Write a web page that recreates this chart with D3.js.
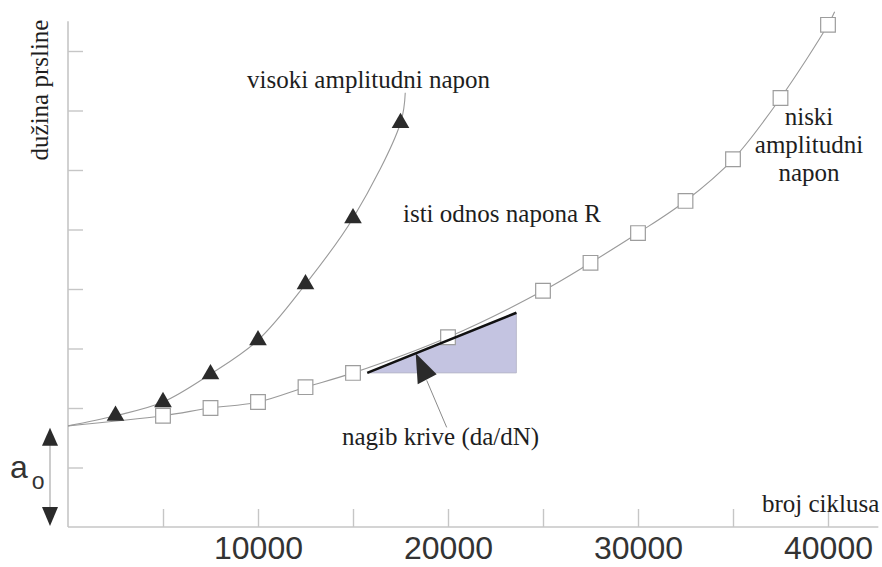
<!DOCTYPE html>
<html>
<head>
<meta charset="utf-8">
<script src="https://cdn.jsdelivr.net/npm/d3@7"></script>
<style>
  html, body { margin: 0; padding: 0; background: #fff; }
  svg { display: block; }
  .serif { font-family: "Liberation Serif", "Times New Roman", serif; fill: #1e1e1e; }
  .sans { font-family: "Liberation Sans", Arial, sans-serif; fill: #333; }
</style>
</head>
<body>
<svg id="chart" width="882" height="567"></svg>
<script>
// Initial crack length shared by both curves (at N = 0)
const crackStart = 1.70;

// High stress amplitude: cycles and crack length at each marker
const highCycles = [2500, 5000, 7500, 10000, 12500, 15000, 17500];
const highLength = [1.87, 2.10, 2.57, 3.14, 4.08, 5.19, 6.79];
const highEnd = [17750, 7.30];

// Low stress amplitude: cycles and crack length at each marker
const lowCycles = [5000, 7500, 10000, 12500, 15000, 20000, 25000, 27500, 30000, 32500, 35000, 37500, 40000];
const lowLength = [1.87, 2.00, 2.10, 2.35, 2.59, 3.19, 3.97, 4.44, 4.94, 5.48, 6.18, 7.21, 8.44];
const lowEnd = [40350, 8.66];

// Tangent (da/dN) triangle on the low-amplitude curve
const tangentCycles = [15750, 23600];
const tangentLength = [2.59, 3.60];

// Axis ticks
const xTickValues = [5000, 10000, 15000, 20000, 25000, 30000, 35000, 40000];
const xTickLabels = ["10000", "20000", "30000", "40000"];
const yTickValues = [1, 2, 3, 4, 5, 6, 7, 8];

const svg = d3.select("#chart");

const x = d3.scaleLinear().domain([0, 40000]).range([68, 828]);
const y = d3.scaleLinear().domain([0, 8]).range([527, 51]);

const axisColor = "#c6c6c6";

// ---- axes ----
const xAxis = d3.axisBottom(x)
  .tickValues(xTickValues)
  .tickSizeInner(-18)
  .tickSizeOuter(0)
  .tickPadding(9)
  .tickFormat(d => xTickLabels.includes(String(d)) ? String(d) : "");

const gx = svg.append("g").attr("transform", `translate(0,${y(0)})`).call(xAxis);
gx.select(".domain").remove();
gx.selectAll(".tick line").attr("stroke", axisColor).attr("stroke-width", 1.4);
gx.selectAll(".tick text")
  .attr("class", "sans")
  .style("font-size", "32px")
  .attr("fill", "#333");

const yAxis = d3.axisLeft(y)
  .tickValues(yTickValues)
  .tickSizeInner(-15)
  .tickSizeOuter(0)
  .tickFormat("");
const gy = svg.append("g").attr("transform", `translate(${x(0)},0)`).call(yAxis);
gy.select(".domain").remove();
gy.selectAll(".tick line").attr("stroke", axisColor).attr("stroke-width", 1.4);

// axis lines
svg.append("line")
  .attr("x1", x(0)).attr("x2", x(42650))
  .attr("y1", y(0)).attr("y2", y(0))
  .attr("stroke", axisColor).attr("stroke-width", 1.6);
svg.append("line")
  .attr("x1", x(0)).attr("x2", x(0))
  .attr("y1", y(0)).attr("y2", y(8.5))
  .attr("stroke", axisColor).attr("stroke-width", 1.6);

// ---- tangent triangle (shaded) ----
const tri = [
  [x(tangentCycles[0]), y(tangentLength[0])],
  [x(tangentCycles[1]), y(tangentLength[0])],
  [x(tangentCycles[1]), y(tangentLength[1])]
];
svg.append("path")
  .attr("d", "M" + tri.map(p => p.join(",")).join("L") + "Z")
  .attr("fill", "#c4c4e1")
  .attr("stroke", "#b4b4c4")
  .attr("stroke-width", 0.8);

// ---- curves ----
const line = d3.line()
  .x(d => x(d[0]))
  .y(d => y(d[1]))
  .curve(d3.curveCatmullRom.alpha(0.5));

const highPts = [[0, crackStart]].concat(highCycles.map((c, i) => [c, highLength[i]]), [highEnd]);
const lowPts = [[0, crackStart]].concat(lowCycles.map((c, i) => [c, lowLength[i]]), [lowEnd]);

svg.append("path").attr("d", line(highPts))
  .attr("fill", "none").attr("stroke", "#9a9a9a").attr("stroke-width", 1.1);
svg.append("path").attr("d", line(lowPts))
  .attr("fill", "none").attr("stroke", "#9a9a9a").attr("stroke-width", 1.1);

// ---- markers ----
svg.append("g").selectAll("path")
  .data(lowCycles.map((c, i) => [c, lowLength[i]]))
  .join("path")
  .attr("d", d3.symbol(d3.symbolSquare, 215))
  .attr("transform", d => `translate(${x(d[0])},${y(d[1])})`)
  .attr("fill", "#fff")
  .attr("stroke", "#9d9d9d")
  .attr("stroke-width", 1.2);

svg.append("g").selectAll("path")
  .data(highCycles.map((c, i) => [c, highLength[i]]))
  .join("path")
  .attr("d", d3.symbol(d3.symbolTriangle, 135))
  .attr("transform", d => `translate(${x(d[0])},${y(d[1])})`)
  .attr("fill", "#2b2b2b");

// ---- tangent line ----
svg.append("line")
  .attr("x1", tri[0][0]).attr("y1", tri[0][1])
  .attr("x2", tri[2][0]).attr("y2", tri[2][1])
  .attr("stroke", "#111").attr("stroke-width", 2.6);

// ---- pointer to the tangent ----
const tipN = 18300;
const tipA = tangentLength[0] + (tipN - tangentCycles[0]) / (tangentCycles[1] - tangentCycles[0]) * (tangentLength[1] - tangentLength[0]);
const tx = x(tipN), ty = y(tipA);
svg.append("line")
  .attr("x1", tx + 11).attr("y1", ty + 27)
  .attr("x2", tx + 31).attr("y2", ty + 74)
  .attr("stroke", "#8a8a8a").attr("stroke-width", 1);
svg.append("path")
  .attr("d", `M${tx},${ty}L${tx + 2},${ty + 31}L${tx + 21},${ty + 21}Z`)
  .attr("fill", "#2b2b2b");

// ---- a0 arrow ----
const ax = 50;
svg.append("line")
  .attr("x1", ax).attr("x2", ax)
  .attr("y1", y(crackStart) + 10).attr("y2", y(0) - 10)
  .attr("stroke", "#999").attr("stroke-width", 1);
svg.append("path")
  .attr("d", `M${ax},${y(crackStart) + 2}L${ax - 8},${y(crackStart) + 20}L${ax + 8},${y(crackStart) + 20}Z`)
  .attr("fill", "#2b2b2b");
svg.append("path")
  .attr("d", `M${ax},${y(0) - 1}L${ax - 8},${y(0) - 20}L${ax + 8},${y(0) - 20}Z`)
  .attr("fill", "#2b2b2b");

const a0 = svg.append("text").attr("class", "sans").attr("x", 10).attr("y", 478)
  .style("font-size", "32px");
a0.append("tspan").text("a");
a0.append("tspan").attr("dx", 4).attr("dy", 11).style("font-size", "23px").text("o");

// ---- labels ----
function label(txt, xx, yy, anchor) {
  return svg.append("text").attr("class", "serif")
    .attr("x", xx).attr("y", yy)
    .attr("text-anchor", anchor || "start")
    .style("font-size", "25px")
    .text(txt);
}
label("visoki amplitudni napon", 247, 88);
label("isti odnos napona R", 403, 222);
label("nagib krive (da/dN)", 342, 445);
label("broj ciklusa", 762, 512);
label("niski", 809, 125, "middle");
label("amplitudni", 809, 153, "middle");
label("napon", 809, 181, "middle");

svg.append("text").attr("class", "serif")
  .attr("transform", "translate(48,90) rotate(-90)")
  .attr("text-anchor", "middle")
  .style("font-size", "25px")
  .text("dužina prsline");
</script>
</body>
</html>
